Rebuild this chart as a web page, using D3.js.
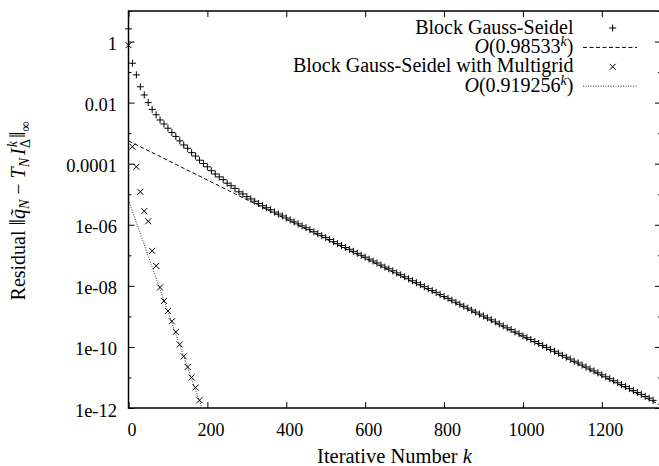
<!DOCTYPE html>
<html>
<head>
<meta charset="utf-8">
<script src="https://cdn.jsdelivr.net/npm/d3@7"></script>
<style>
  body { margin: 0; background: #fff; }
  svg { display: block; font-family: "Liberation Serif", "Times New Roman", serif; }
</style>
</head>
<body>
<svg width="659" height="466"></svg>
<script>
// axis ticks
var xTicks = [0, 200, 400, 600, 800, 1000, 1200];
var yMajor = [1, 1e-2, 1e-4, 1e-6, 1e-8, 1e-10, 1e-12];
var yLabels = ["1", "0.01", "0.0001", "1e-06", "1e-08", "1e-10", "1e-12"];
var yMinor = [10, 0.1, 1e-3, 1e-5, 1e-7, 1e-9, 1e-11];

// Block Gauss-Seidel residuals [iteration, residual]
var gaussSeidel = [
  [0, 2.6], [10, 0.195], [20, 0.081], [30, 0.033], [40, 0.0178], [50, 0.010],
  [60, 0.0060], [70, 0.0040], [80, 0.0027], [90, 0.0020], [100, 1.45e-3],
  [110, 1.05e-3], [120, 7.8e-4], [130, 5.6e-4], [140, 4.1e-4], [150, 3.2e-4],
  [160, 2.3e-4], [170, 1.78e-4], [180, 1.3e-4], [190, 1.02e-4], [200, 7.9e-5],
  [210, 5.9e-5], [220, 4.6e-5], [230, 3.7e-5], [240, 3.0e-5], [250, 2.3e-5],
  [260, 1.9e-5], [270, 1.55e-5], [280, 1.2e-5], [290, 1.02e-5], [300, 8.3e-6],
  [310, 7.0e-6], [320, 5.9e-6], [330, 5.0e-6], [340, 4.2e-6], [350, 3.6e-6],
  [360, 3.1e-6], [370, 2.6e-6], [380, 2.25e-6], [390, 1.94e-6], [400, 1.67e-6],
  [410, 1.44e-6], [420, 1.24e-6], [430, 1.07e-6], [440, 9.2e-7], [450, 8.0e-7],
  [460, 6.9e-7], [470, 5.9e-7], [480, 5.1e-7], [490, 4.4e-7], [500, 3.8e-7],
  [510, 3.3e-7], [520, 2.8e-7], [530, 2.4e-7], [540, 2.1e-7], [550, 1.8e-7],
  [560, 1.57e-7], [570, 1.35e-7], [580, 1.16e-7], [590, 1.0e-7], [600, 8.7e-8],
  [610, 7.5e-8], [620, 6.5e-8], [630, 5.6e-8], [640, 4.8e-8], [650, 4.1e-8],
  [660, 3.6e-8], [670, 3.1e-8], [680, 2.65e-8], [690, 2.3e-8], [700, 1.98e-8],
  [710, 1.71e-8], [720, 1.47e-8], [730, 1.27e-8], [740, 1.09e-8], [750, 9.4e-9],
  [760, 8.1e-9], [770, 7.0e-9], [780, 6.1e-9], [790, 5.2e-9], [800, 4.5e-9],
  [810, 3.9e-9], [820, 3.4e-9], [830, 2.9e-9], [840, 2.5e-9], [850, 2.15e-9],
  [860, 1.86e-9], [870, 1.6e-9], [880, 1.38e-9], [890, 1.19e-9], [900, 1.03e-9],
  [910, 8.9e-10], [920, 7.7e-10], [930, 6.6e-10], [940, 5.7e-10], [950, 4.9e-10],
  [960, 4.2e-10], [970, 3.7e-10], [980, 3.1e-10], [990, 2.7e-10], [1000, 2.3e-10],
  [1010, 2.0e-10], [1020, 1.75e-10], [1030, 1.5e-10], [1040, 1.3e-10], [1050, 1.12e-10],
  [1060, 9.7e-11], [1070, 8.3e-11], [1080, 7.2e-11], [1090, 6.2e-11], [1100, 5.3e-11],
  [1110, 4.6e-11], [1120, 4.0e-11], [1130, 3.4e-11], [1140, 3.0e-11], [1150, 2.55e-11],
  [1160, 2.2e-11], [1170, 1.9e-11], [1180, 1.64e-11], [1190, 1.41e-11], [1200, 1.22e-11],
  [1210, 1.05e-11], [1220, 9.1e-12], [1230, 7.8e-12], [1240, 6.7e-12], [1250, 5.8e-12],
  [1260, 5.0e-12], [1270, 4.3e-12], [1280, 3.7e-12], [1290, 3.2e-12], [1300, 2.8e-12],
  [1310, 2.4e-12], [1320, 2.1e-12], [1330, 1.78e-12]
];

// Block Gauss-Seidel with Multigrid residuals
var multigrid = [
  [0, 0.76], [10, 3.6e-4], [20, 7.9e-5], [30, 1.2e-5], [40, 2.8e-6], [50, 1.3e-6],
  [60, 1.4e-7], [70, 4.5e-8], [80, 8.9e-9], [90, 3.2e-9], [100, 1.5e-9],
  [110, 6.9e-10], [120, 3.1e-10], [130, 1.2e-10], [140, 4.9e-11], [150, 2.2e-11],
  [160, 1.0e-11], [170, 4.7e-12], [180, 1.8e-12]
];

// fitted rates C * r^k
var gsRate = 0.98533, gsConst = 5.6e-4;
var mgRate = 0.919256, mgConst = 6.4e-6;

var svg = d3.select("svg");
var plotL = 128.5, plotR = 661, plotT = 11, plotB = 408;
var xMax = 1350;

var x = d3.scaleLinear().domain([0, xMax]).range([plotL, plotR]);
var y = d3.scaleLog().domain([1e-12, 10]).range([plotB, plotT]);

svg.append("clipPath").attr("id", "plotclip")
  .append("rect")
  .attr("x", plotL).attr("y", plotT)
  .attr("width", plotR - plotL).attr("height", plotB - plotT);

function styleAxis(g) {
  g.select(".domain").remove();
  g.selectAll(".tick line").attr("stroke", "#000").attr("stroke-width", 1);
}

// bottom / top
svg.append("g")
  .attr("transform", "translate(0," + plotB + ")")
  .call(d3.axisBottom(x).tickValues(xTicks).tickSize(-6).tickFormat(d3.format("d")))
  .call(styleAxis)
  .call(function(g) {
    g.selectAll("text")
      .attr("y", 28).attr("dy", 0).attr("dx", 3)
      .attr("fill", "#000")
      .style("font-size", "18px")
      .style("font-family", "Liberation Serif");
  });

svg.append("g")
  .attr("transform", "translate(0," + plotT + ")")
  .call(d3.axisTop(x).tickValues(xTicks).tickSize(-6).tickFormat(""))
  .call(styleAxis);

// left
svg.append("g")
  .attr("transform", "translate(" + plotL + ",0)")
  .call(d3.axisLeft(y).tickValues(yMajor).tickSize(-6)
    .tickFormat(function(d, i) { return yLabels[i]; }))
  .call(styleAxis)
  .call(function(g) {
    g.selectAll("text")
      .attr("x", -11.5).attr("dy", 8)
      .attr("fill", "#000")
      .style("font-size", "18.5px")
      .style("font-family", "Liberation Serif");
  });

svg.append("g")
  .attr("transform", "translate(" + plotL + ",0)")
  .call(d3.axisLeft(y).tickValues(yMinor).tickSize(-3).tickFormat(""))
  .call(styleAxis);

// right
svg.append("g")
  .attr("transform", "translate(" + plotR + ",0)")
  .call(d3.axisRight(y).tickValues(yMajor).tickSize(-6).tickFormat(""))
  .call(styleAxis);

svg.append("g")
  .attr("transform", "translate(" + plotR + ",0)")
  .call(d3.axisRight(y).tickValues(yMinor).tickSize(-3).tickFormat(""))
  .call(styleAxis);

// frame
svg.append("rect")
  .attr("x", plotL).attr("y", plotT)
  .attr("width", plotR - plotL).attr("height", plotB - plotT)
  .attr("fill", "none").attr("stroke", "#000").attr("stroke-width", 1.5);

var plot = svg.append("g").attr("clip-path", "url(#plotclip)");

var line = d3.line()
  .x(function(d) { return x(d[0]); })
  .y(function(d) { return y(d[1]); });

// fit lines
plot.append("path")
  .datum([[0, gsConst], [xMax, gsConst * Math.pow(gsRate, xMax)]])
  .attr("d", line)
  .attr("fill", "none").attr("stroke", "#000").attr("stroke-width", 1)
  .attr("stroke-dasharray", "4,2.5");

plot.append("path")
  .datum([[0, mgConst], [xMax, mgConst * Math.pow(mgRate, xMax)]])
  .attr("d", line)
  .attr("fill", "none").attr("stroke", "#333").attr("stroke-width", 1)
  .attr("stroke-dasharray", "1,1.5");

var plusPath = "M-3.5,0H3.5M0,-3.5V3.5";
var crossPath = "M-3,-3L3,3M-3,3L3,-3";

// markers are not clipped (points on the border stay whole)
var marks = svg.append("g");

marks.selectAll(".gs")
  .data(gaussSeidel)
  .enter().append("path")
  .attr("class", "gs")
  .attr("transform", function(d) { return "translate(" + x(d[0]) + "," + y(d[1]) + ")"; })
  .attr("d", plusPath)
  .attr("stroke", "#000").attr("stroke-width", 1).attr("fill", "none");

marks.selectAll(".mg")
  .data(multigrid)
  .enter().append("path")
  .attr("class", "mg")
  .attr("transform", function(d) { return "translate(" + x(d[0]) + "," + y(d[1]) + ")"; })
  .attr("d", crossPath)
  .attr("stroke", "#000").attr("stroke-width", 1).attr("fill", "none");

// legend
var legX = 573.5, legRow = 19.4, legBase = 33.5;
var leg = svg.append("g").style("font-size", "20px").attr("fill", "#000");

function fitLabel(row, rateText) {
  var t = leg.append("text")
    .attr("x", legX).attr("y", legBase + row * legRow)
    .attr("text-anchor", "end");
  t.append("tspan").style("font-style", "italic").text("O");
  t.append("tspan").text("(" + rateText);
  t.append("tspan").style("font-style", "italic").style("font-size", "14px")
    .attr("dy", -7).text("k");
  t.append("tspan").attr("dy", 7).text(")");
}

leg.append("text").attr("x", legX).attr("y", legBase)
  .attr("text-anchor", "end").text("Block Gauss-Seidel");
fitLabel(1, gsRate);
leg.append("text").attr("x", legX).attr("y", legBase + 2 * legRow)
  .attr("text-anchor", "end").text("Block Gauss-Seidel with Multigrid");
fitLabel(3, mgRate);

var sx0 = 583, sx1 = 637, sxm = 612.7;
leg.append("path")
  .attr("transform", "translate(" + sxm + "," + (legBase - 5.5) + ")")
  .attr("d", plusPath).attr("stroke", "#000").attr("fill", "none");
leg.append("line")
  .attr("x1", sx0).attr("x2", sx1)
  .attr("y1", legBase + legRow - 5.5).attr("y2", legBase + legRow - 5.5)
  .attr("stroke", "#000").attr("stroke-dasharray", "4,2.5");
leg.append("path")
  .attr("transform", "translate(" + sxm + "," + (legBase + 2 * legRow - 5.5) + ")")
  .attr("d", crossPath).attr("stroke", "#000").attr("fill", "none");
leg.append("line")
  .attr("x1", sx0).attr("x2", sx1)
  .attr("y1", legBase + 3 * legRow - 5.5).attr("y2", legBase + 3 * legRow - 5.5)
  .attr("stroke", "#333").attr("stroke-dasharray", "1,1.5");

// axis titles
var xt = svg.append("text")
  .attr("x", 394.5).attr("y", 462.5)
  .attr("text-anchor", "middle").style("font-size", "20.5px");
xt.append("tspan").text("Iterative Number ");
xt.append("tspan").style("font-style", "italic").text("k");

var yt = svg.append("text")
  .attr("transform", "translate(25,211) rotate(-90)")
  .attr("text-anchor", "middle").style("font-size", "20px");
yt.append("tspan").text("Residual ");
yt.append("tspan").style("font-size", "23px").text("\u2016");
yt.append("tspan").style("font-style", "italic").text("q\u0303");
yt.append("tspan").style("font-style", "italic").style("font-size", "14px").attr("dy", 4).text("N");
yt.append("tspan").attr("dy", -4).text(" \u2212 ");
yt.append("tspan").style("font-style", "italic").text("T");
yt.append("tspan").style("font-style", "italic").style("font-size", "14px").attr("dy", 4).text("N");
yt.append("tspan").style("font-style", "italic").attr("dy", -4).attr("dx", 3).text("I");
yt.append("tspan").style("font-style", "italic").style("font-size", "14px").attr("dy", -8).attr("dx", 1).text("k");
yt.append("tspan").style("font-size", "14px").attr("dx", -7).attr("dy", 13).text("\u0394");
yt.append("tspan").style("font-size", "23px").attr("dy", -5).attr("dx", 1).text("\u2016");
yt.append("tspan").style("font-size", "14px").attr("dy", 5).text("\u221e");
</script>
</body>
</html>
